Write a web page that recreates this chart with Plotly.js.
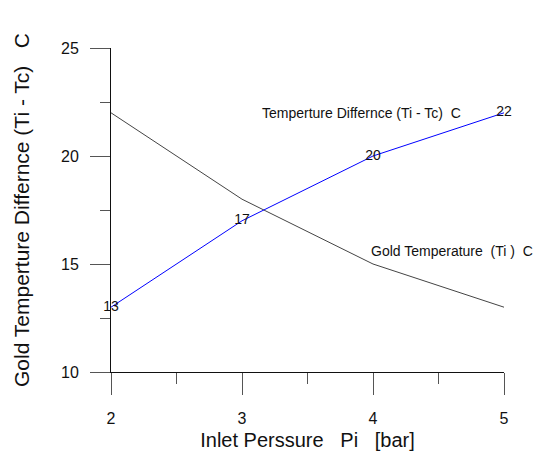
<!DOCTYPE html>
<html>
<head>
<meta charset="utf-8">
<script src="https://cdn.plot.ly/plotly-3.0.1.min.js"></script>
<style>html,body{margin:0;padding:0;background:#fff;}#chart{width:542px;height:461px;}</style>
</head>
<body>
<div id="chart"></div>
<script>
const pressure = [2, 3, 4, 5];
const goldTemp = [22, 18, 15, 13];
const tempDiff = [13, 17, 20, 22];
const diffLabels = ['13', '17', '20', '22'];
const xTickVals = [2, 3, 4, 5];
const yTickVals = [10, 15, 20, 25];

const font = 'Liberation Sans, Arial, sans-serif';

const traces = [
  {x: pressure, y: goldTemp, mode: 'lines', line: {color: '#444', width: 1}, hoverinfo: 'none'},
  {x: pressure, y: tempDiff, mode: 'lines+text', text: diffLabels, textposition: 'middle center',
   textfont: {family: font, size: 14, color: '#111'}, line: {color: '#0000ff', width: 1}, hoverinfo: 'none', cliponaxis: false}
];

const layout = {
  width: 542, height: 461,
  margin: {l: 111, r: 38, t: 48, b: 89},
  paper_bgcolor: '#fff', plot_bgcolor: '#fff',
  showlegend: false,
  font: {family: font, color: '#111'},
  xaxis: {
    range: [2, 5], showgrid: false, zeroline: false, showline: true, linecolor: '#111', linewidth: 1,
    tickmode: 'array', tickvals: xTickVals, ticks: 'outside', ticklen: 22, tickcolor: '#555', tickwidth: 1,
    tickfont: {size: 16, family: font}, ticklabelstandoff: 10,
    minor: {tickmode: 'array', tickvals: [2.5, 3.5, 4.5], ticks: 'outside', ticklen: 11, tickcolor: '#555', tickwidth: 1},
    title: {text: 'Inlet Perssure&nbsp;&nbsp;&nbsp;Pi&nbsp;&nbsp;&nbsp;[bar]', font: {size: 20, family: font}, standoff: 6}
  },
  yaxis: {
    range: [10, 25], showgrid: false, zeroline: false, showline: true, linecolor: '#111', linewidth: 1,
    tickmode: 'array', tickvals: yTickVals, ticks: 'outside', ticklen: 20, tickcolor: '#555', tickwidth: 1,
    tickfont: {size: 16, family: font}, ticklabelstandoff: 8,
    minor: {tickmode: 'array', tickvals: [12.5, 17.5, 22.5], ticks: 'outside', ticklen: 10, tickcolor: '#555', tickwidth: 1},
    title: {text: 'Gold Temperture Differnce (Ti - Tc)&nbsp;&nbsp;&nbsp;C', font: {size: 21, family: font}, standoff: 25}
  },
  annotations: [
    {x: 3.137, y: 22, xref: 'x', yref: 'y', text: 'Temperture Differnce (Ti - Tc)&nbsp;&nbsp;C', showarrow: false,
     xanchor: 'left', yanchor: 'middle', font: {size: 14, family: font, color: '#111'}},
    {x: 3.97, y: 15.6, xref: 'x', yref: 'y', text: 'Gold Temperature&nbsp;&nbsp;(Ti )&nbsp;&nbsp;C', showarrow: false,
     xanchor: 'left', yanchor: 'middle', font: {size: 14, family: font, color: '#111'}}
  ]
};

Plotly.newPlot('chart', traces, layout, {displayModeBar: false, staticPlot: true});
</script>
</body>
</html>
